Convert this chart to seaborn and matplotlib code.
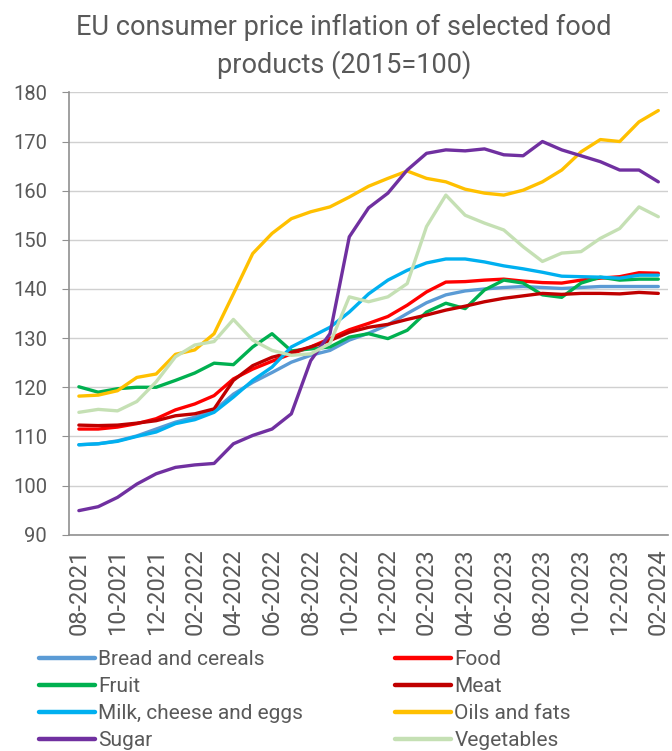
import pandas as pd
import matplotlib.pyplot as plt
import seaborn as sns

months = ["08-2021", "09-2021", "10-2021", "11-2021", "12-2021", "01-2022", "02-2022",
          "03-2022", "04-2022", "05-2022", "06-2022", "07-2022", "08-2022", "09-2022",
          "10-2022", "11-2022", "12-2022", "01-2023", "02-2023", "03-2023", "04-2023",
          "05-2023", "06-2023", "07-2023", "08-2023", "09-2023", "10-2023", "11-2023",
          "12-2023", "01-2024", "02-2024"]

bread = [108.3, 108.5, 109.1, 110.1, 111.5, 112.9, 113.9, 115.2, 118.6, 121.0, 123.0,
         125.1, 126.5, 127.5, 129.6, 131.0, 132.7, 135.0, 137.2, 138.8, 139.6, 140.0,
         140.3, 140.5, 140.3, 140.1, 140.3, 140.5, 140.5, 140.5, 140.5]
food = [111.5, 111.5, 111.9, 112.6, 113.6, 115.4, 116.6, 118.3, 121.7, 123.7, 125.3,
        126.8, 128.2, 129.9, 131.7, 133.0, 134.4, 136.7, 139.4, 141.4, 141.5, 141.8,
        142.0, 141.6, 141.3, 141.2, 141.8, 142.2, 142.5, 143.3, 143.2]
fruit = [120.1, 119.0, 119.7, 120.0, 120.0, 121.4, 122.9, 124.9, 124.6, 128.2, 130.9,
         127.4, 127.8, 128.2, 130.2, 130.9, 129.9, 131.6, 135.3, 137.1, 136.0, 139.8,
         141.8, 141.2, 138.8, 138.3, 141.2, 142.4, 141.8, 142.0, 142.0]
meat = [112.3, 112.2, 112.3, 112.7, 113.2, 114.2, 114.6, 115.6, 121.4, 124.4, 126.1,
        127.1, 128.2, 129.5, 131.2, 132.2, 132.8, 133.8, 134.7, 135.7, 136.5, 137.4,
        138.1, 138.6, 139.1, 138.9, 139.1, 139.1, 139.0, 139.3, 139.1]
milk = [108.3, 108.5, 109.0, 110.0, 110.9, 112.6, 113.4, 114.9, 118.0, 121.4, 124.1,
        128.2, 130.2, 132.2, 135.3, 139.0, 141.8, 143.8, 145.3, 146.1, 146.1, 145.5,
        144.7, 144.1, 143.4, 142.6, 142.5, 142.4, 142.2, 142.8, 142.8]
oils = [118.2, 118.4, 119.3, 122.0, 122.7, 126.7, 127.6, 130.9, 139.0, 147.2, 151.3,
        154.3, 155.7, 156.7, 158.7, 160.9, 162.5, 164.0, 162.5, 161.8, 160.3, 159.5,
        159.1, 160.1, 161.8, 164.2, 167.9, 170.4, 170.0, 174.0, 176.3]
sugar = [94.9, 95.7, 97.6, 100.3, 102.4, 103.7, 104.2, 104.5, 108.5, 110.2, 111.5,
         114.6, 125.4, 130.9, 150.6, 156.5, 159.5, 164.2, 167.6, 168.3, 168.1, 168.5,
         167.3, 167.1, 170.0, 168.3, 167.1, 165.9, 164.2, 164.2, 161.8]
vegetables = [114.9, 115.5, 115.2, 117.1, 121.1, 126.2, 128.6, 129.3, 133.8, 129.6, 127.5,
              126.5, 126.8, 128.9, 138.4, 137.4, 138.4, 141.1, 152.7, 159.1, 155.0, 153.4,
              152.0, 148.6, 145.6, 147.3, 147.6, 150.3, 152.3, 156.7, 154.7]

series = {
    "Bread and cereals": bread,
    "Food": food,
    "Fruit": fruit,
    "Meat": meat,
    "Milk, cheese and eggs": milk,
    "Oils and fats": oils,
    "Sugar": sugar,
    "Vegetables": vegetables,
}
colors = ["#5b9bd5", "#ff0000", "#00b050", "#c00000", "#00b0f0", "#ffc000", "#7030a0", "#c5e0b4"]

rows = []
for name, vals in series.items():
    for i, v in enumerate(vals):
        rows.append({"idx": i, "month": months[i], "value": v, "series": name})
df = pd.DataFrame(rows)

sns.set_style("white")
plt.rcParams['font.family'] = ['Roboto', 'DejaVu Sans']
grey = "#595959"

fig = plt.figure(figsize=(6.72, 7.51), dpi=100)
ax = fig.add_axes([0.103, 0.288, 0.891, 0.589])
sns.lineplot(data=df, x="idx", y="value", hue="series", palette=colors,
             linewidth=2.4, ax=ax, legend=False)

ax.set_xlim(-0.5, len(months) - 0.5)
ax.set_ylim(90, 180)
ax.set_yticks(range(90, 181, 10))
ax.yaxis.grid(True, color="#d0d0d0", linewidth=1)
ax.set_axisbelow(True)
ax.set_xticks(range(0, len(months), 2))
ax.set_xticklabels(months[::2], rotation=90, fontsize=17, color=grey)
ax.set_xticks([i - 0.5 for i in range(len(months) + 1)], minor=True)
ax.tick_params(axis="x", which="major", length=0, pad=10)
ax.tick_params(axis="x", which="minor", length=5, color="#909090", direction="out")
ax.tick_params(axis="y", labelsize=14.5, labelcolor=grey, length=5, color="#909090",
               direction="out", left=True, pad=11)
ax.set_xlabel("")
ax.set_ylabel("")
for s in ["top", "right"]:
    ax.spines[s].set_visible(False)
for s in ["left", "bottom"]:
    ax.spines[s].set_color("#909090")
    ax.spines[s].set_linewidth(1.2)

fig.text(0.512, 0.982, "EU consumer price inflation of selected food\nproducts (2015=100)",
         ha="center", va="top", fontsize=19.5, color=grey, linespacing=1.45)

# legend fills row-wise in the reference: reorder for matplotlib's column-major layout
names = list(series.keys())
order = [0, 2, 4, 6, 1, 3, 5, 7]
handles = [plt.Line2D([], [], color=colors[k], linewidth=3.2) for k in order]
fig.legend(handles, [names[k] for k in order], ncol=2, loc="upper left",
           bbox_to_anchor=(0.058, 0.134), frameon=False, fontsize=15,
           handlelength=2.7, handletextpad=0.15, labelspacing=0.38,
           columnspacing=4.4, labelcolor=grey, borderpad=0, borderaxespad=0)

plt.savefig("out.png", dpi=100)
